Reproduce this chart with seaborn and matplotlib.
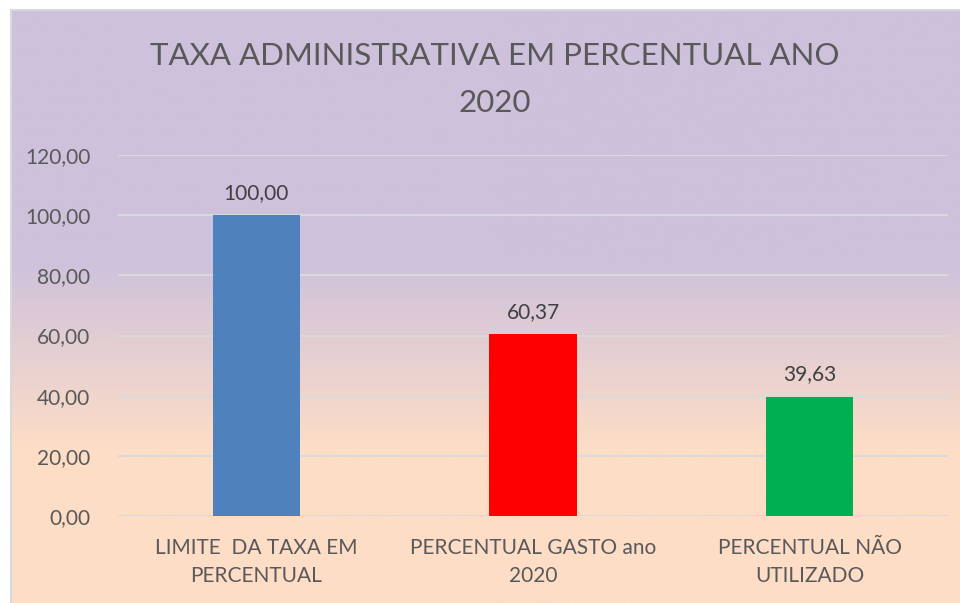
import numpy as np, pandas as pd
import matplotlib; matplotlib.use('Agg')
import matplotlib.pyplot as plt
from matplotlib.colors import LinearSegmentedColormap
from matplotlib.lines import Line2D
import seaborn as sns

categorias = ["LIMITE  DA TAXA EM\nPERCENTUAL", "PERCENTUAL GASTO ano\n2020", "PERCENTUAL NÃO\nUTILIZADO"]
valores = [100.00, 60.37, 39.63]
cores = ["#4f81bd", "#ff0000", "#00b050"]
ticks_y = [0, 20, 40, 60, 80, 100, 120]
titulo = "TAXA ADMINISTRATIVA EM PERCENTUAL ANO\n2020"

df = pd.DataFrame({"categoria": categorias, "valor": valores})

sns.set_theme(style="white")
plt.rcParams['font.family'] = ['Lato', 'DejaVu Sans']

fig = plt.figure(figsize=(9.6, 6.03), dpi=100)
fig.patch.set_facecolor("white")

# fundo em degrade (roxo -> pessego)
bg = fig.add_axes([11/960, 0, 1 - 11/960, 593/603], zorder=0)
cmap = LinearSegmentedColormap.from_list("fundo", [(0, "#fdddc6"), (0.26, "#fdddc6"), (0.58, "#cdc1dc"), (1, "#cdc1dc")])
bg.imshow(np.linspace(0, 1, 256).reshape(-1, 1), aspect="auto", cmap=cmap, origin="lower", extent=[0, 1, 0, 1])
bg.set_axis_off()
# borda cinza so em cima e na esquerda
fig.add_artist(Line2D([10.5/960, 10.5/960, 1], [0, 593.5/603, 593.5/603], transform=fig.transFigure, color="#d9d9d9", lw=1.5, zorder=1))

ax = fig.add_axes([118/960, 87/603, 830/960, 361/603], zorder=2)
ax.patch.set_alpha(0)
sns.barplot(data=df, x="categoria", y="valor", hue="categoria", palette=cores, legend=False, width=0.315,
            saturation=1, linewidth=0, ax=ax, zorder=3)

for p, v in zip(ax.patches, valores):
    ax.annotate(f"{v:.2f}".replace(".", ","), (p.get_x() + p.get_width() / 2, p.get_height()),
                xytext=(0, 9), textcoords="offset points", ha="center", va="bottom", fontsize=15, color="#404040")

ax.set_ylim(0, 120)
ax.set_yticks(ticks_y)
ax.set_yticklabels([f"{t:.2f}".replace(".", ",") for t in ticks_y], fontsize=15, color="#595959")
ax.tick_params(axis="x", labelsize=15, labelcolor="#595959", pad=16, length=0)
ax.tick_params(axis="y", pad=20, length=0)
ax.set_xlabel(""); ax.set_ylabel("")
ax.yaxis.grid(True, color="#d9d9d9", lw=1.5, zorder=0)
ax.set_axisbelow(True)
for s in ax.spines.values():
    s.set_visible(False)
for lbl in ax.get_xticklabels():
    lbl.set_linespacing(1.5)

fig.text(0.515, 0.93, titulo, ha="center", va="top", fontsize=22.5, color="#595959", linespacing=1.8, zorder=3)

fig.savefig("out.png", dpi=100)
